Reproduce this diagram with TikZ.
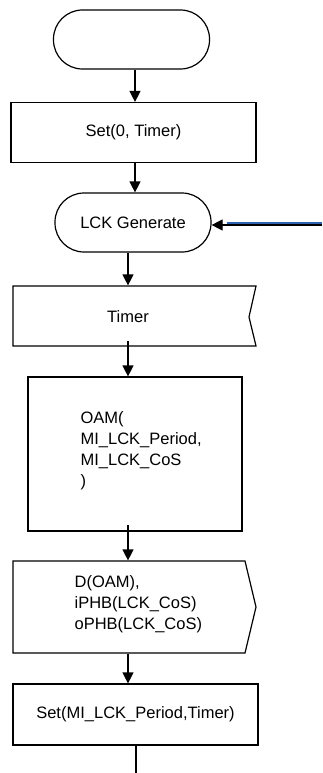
\documentclass[tikz,border=0pt]{standalone}
\usepackage{fontspec}
\setmainfont{Liberation Sans}
\usetikzlibrary{arrows.meta}
\begin{document}
\begin{tikzpicture}[x=1pt,y=-1pt,
  line width=1.2pt,
  txt/.style={font=\fontsize{16.5}{21}\selectfont, align=left, inner sep=0pt},
  terminal/.style={draw, rounded corners=29pt, minimum width=156pt, minimum height=59pt, inner sep=0pt, font=\fontsize{16.5}{21}\selectfont},
  procbox/.style={draw, minimum height=60pt, inner sep=0pt, font=\fontsize{16.5}{21}\selectfont},
  flow/.style={-{Triangle[width=11pt,length=11pt]}},
]
\useasboundingbox (0,0) rectangle (322,773);
\fill[white] (0,0) rectangle (322,773);

% start terminal
\node[terminal] (start) at (131.5,39.5) {};

% Set(0, Timer)
\node[procbox, minimum width=245pt] (set0) at (133.5,132.5) {Set(0, Timer)};

% LCK Generate state
\node[terminal] (gen) at (133,222.5) {LCK Generate};

% Timer input (notched right side)
\node[minimum width=243pt, minimum height=60pt, inner sep=0pt] (timer) at (134.5,316) {};
\draw[line join=miter] (13,286) -- (256,286) -- (249,317) -- (256,346) -- (13,346) -- cycle;
\node[txt] at (128,317) {Timer};

% OAM task box
\node[draw, minimum width=214pt, minimum height=154pt, inner sep=0pt] (oam) at (135,454) {};
\node[txt, anchor=north west] at (80,411) {OAM(\\MI\_LCK\_Period,\\MI\_LCK\_CoS\\)};

% output (pointed right side)
\node[minimum width=243pt, minimum height=92pt, inner sep=0pt] (out) at (134.5,607) {};
\draw[line join=miter] (13,561) -- (245,561) -- (256,607) -- (245,653) -- (13,653) -- cycle;
\node[txt, anchor=north west] at (74,575) {D(OAM),\\iPHB(LCK\_CoS)\\oPHB(LCK\_CoS)};

% Set(MI_LCK_Period, Timer)
\node[procbox, minimum width=245pt, minimum height=61pt] (set1) at (135.5,714.5) {Set(MI\_LCK\_Period,Timer)};

\coordinate (loopin) at (322,225);
\coordinate (tail) at (136,773);

% connectors
\draw[flow] (start.south -| 135,0) -- (set0.north -| 135,0);
\draw[flow] (set0.south -| 135,0) -- (gen.north -| 135,0);
\draw[flow] (gen.south -| 128,0) -- (timer.north -| 128,0);
\draw[flow] (128,341) -- (oam.north -| 128,0);
\draw[flow] (128,525) -- (out.north -| 128,0);
\draw[flow] (out.south -| 128,0) -- (set1.north -| 128,0);
\draw (set1.south -| tail) -- (tail);

% loop-back connector into LCK Generate
\draw[flow] (loopin) -- (gen.east |- loopin);
\draw[color={rgb,255:red,47;green,99;blue,176}, line width=1.6pt] (227,222.7) -- (322,222.7);
\end{tikzpicture}
\end{document}
